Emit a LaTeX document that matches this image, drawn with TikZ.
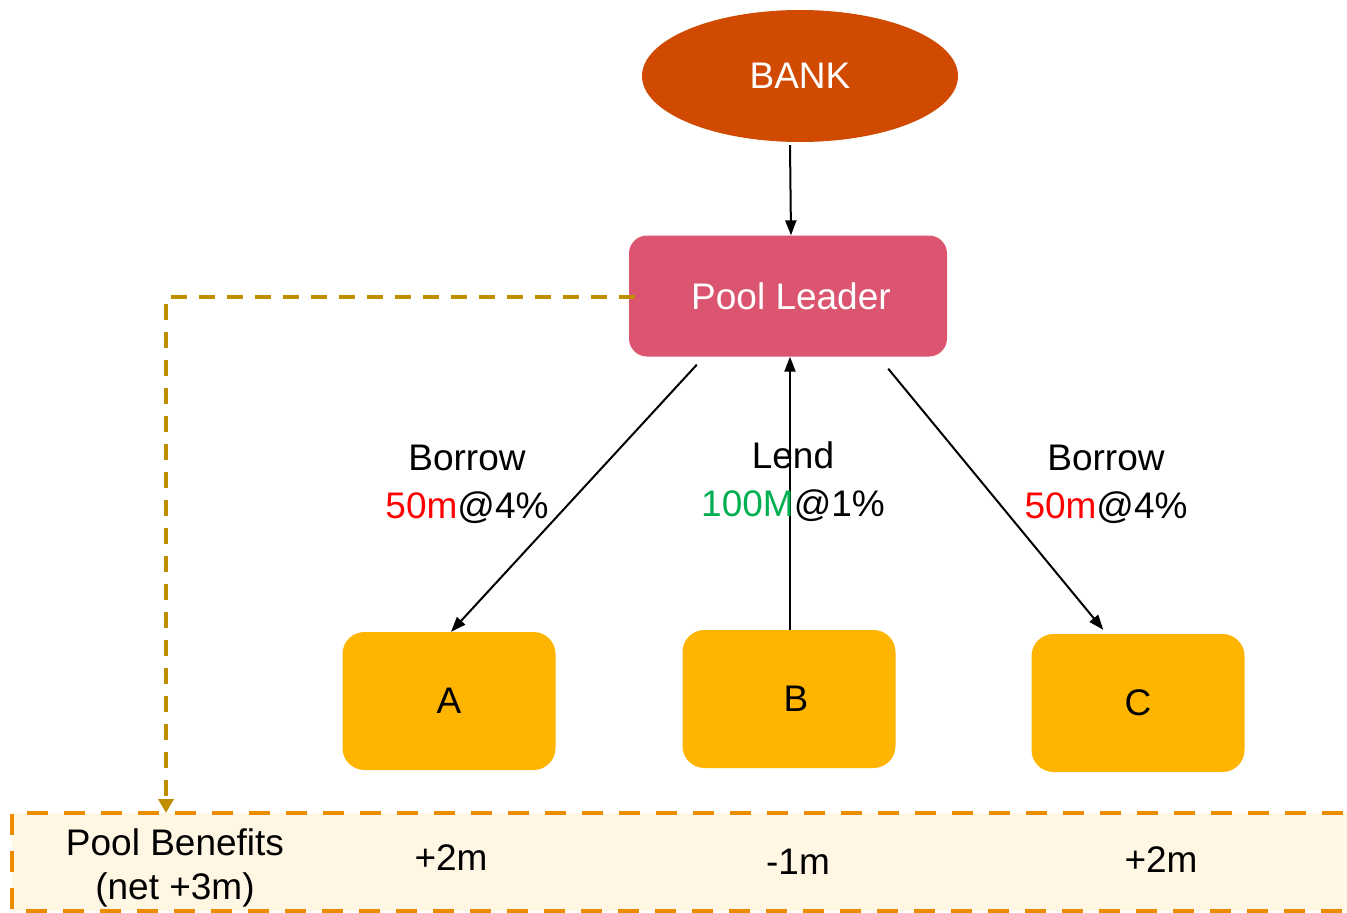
\documentclass[tikz,border=0pt]{standalone}
\usepackage{fontspec}
\setmainfont{Liberation Sans}
\usetikzlibrary{arrows.meta,positioning,shapes.geometric,calc}
\definecolor{BankOrange}{HTML}{D14A02}
\definecolor{LeaderRose}{HTML}{DC5570}
\definecolor{MemberGold}{HTML}{FFB500}
\definecolor{LinkGold}{HTML}{BF8F00}
\definecolor{EdgeOrange}{HTML}{EC8C00}
\definecolor{SoftCream}{HTML}{FFF6E3}
\definecolor{RateRed}{HTML}{FF0000}
\definecolor{RateGreen}{HTML}{00B050}

\tikzset{
  member/.style={draw=none, fill=MemberGold, rounded corners=22pt, minimum width=213pt, minimum height=138pt, font=\fontsize{37}{42}\selectfont},
  flow/.style={line width=2pt, -{Triangle[length=15pt,width=11pt]}},
  tag/.style={font=\fontsize{37}{42}\selectfont, align=center, inner sep=0pt}
}

\begin{document}
\begin{tikzpicture}[x=1pt, y=-1pt]
  \useasboundingbox (0,0) rectangle (1347,913);
  \clip (0,0) rectangle (1347,913);
  % benefits strip
  \fill[SoftCream] (12,813) rectangle (1380,911);
  \draw[EdgeOrange, line width=4pt, dash pattern=on 21pt off 16pt] (1380,813) -- (12,813) -- (12,911) -- (1380,911);
  \coordinate (striptop) at (166,813);
  \node[tag] (benefits) at (175,868) {Pool Benefits\\[2pt](net +3m)};
  \node[tag] (gainA) at (451,858) {+2m};
  \node[tag] (gainB) at (798,862) {-1m};
  \node[tag] (gainC) at (1161,860) {+2m};

  \node[ellipse, fill=BankOrange, minimum width=316pt, minimum height=132pt, text=white, font=\fontsize{37}{42}\selectfont] (bank) at (800,76) {BANK};
  \node[fill=LeaderRose, rounded corners=18pt, minimum width=318pt, minimum height=121pt, text=white, font=\fontsize{37}{42}\selectfont] (leader) at (788,296) {\hspace{6pt}Pool Leader};
  \node[member] (A) at (449,701) {A};
  \node[member] (B) at (789,699) {\hspace{14pt}B};
  \node[member] (C) at (1138,703) {C};

  \draw[flow] ($(bank.south)+(-10,3)$) -- ($(leader.north)+(3,0)$);
  \draw[flow] ($(leader.south west)+(68,8)$) -- ($(A.north)+(2,0)$);
  \draw[flow] ($(B.north)+(1,0)$) -- ($(B.north |- leader.south)+(1,0)$);
  \draw[flow] ($(leader.south east)+(-59,12)$) -- ($(C.north west)+(72,-4)$);

  \node[tag] (lblA) at (467,484) {Borrow\\[6pt]\textcolor{RateRed}{50m}@4\%};
  \node[tag] (lblB) at (793,482) {Lend\\[6pt]\textcolor{RateGreen}{100M}@1\%};
  \node[tag] (lblC) at (1106,484) {Borrow\\[6pt]\textcolor{RateRed}{50m}@4\%};

  % leader to benefits
  \coordinate (bend) at (166,297);
  \draw[LinkGold, line width=4pt, dash pattern=on 16pt off 12pt, -{Triangle[length=14pt,width=15pt]}] ($(leader.west)+(6,1)$) -- (bend) -- (striptop);
\end{tikzpicture}
\end{document}
